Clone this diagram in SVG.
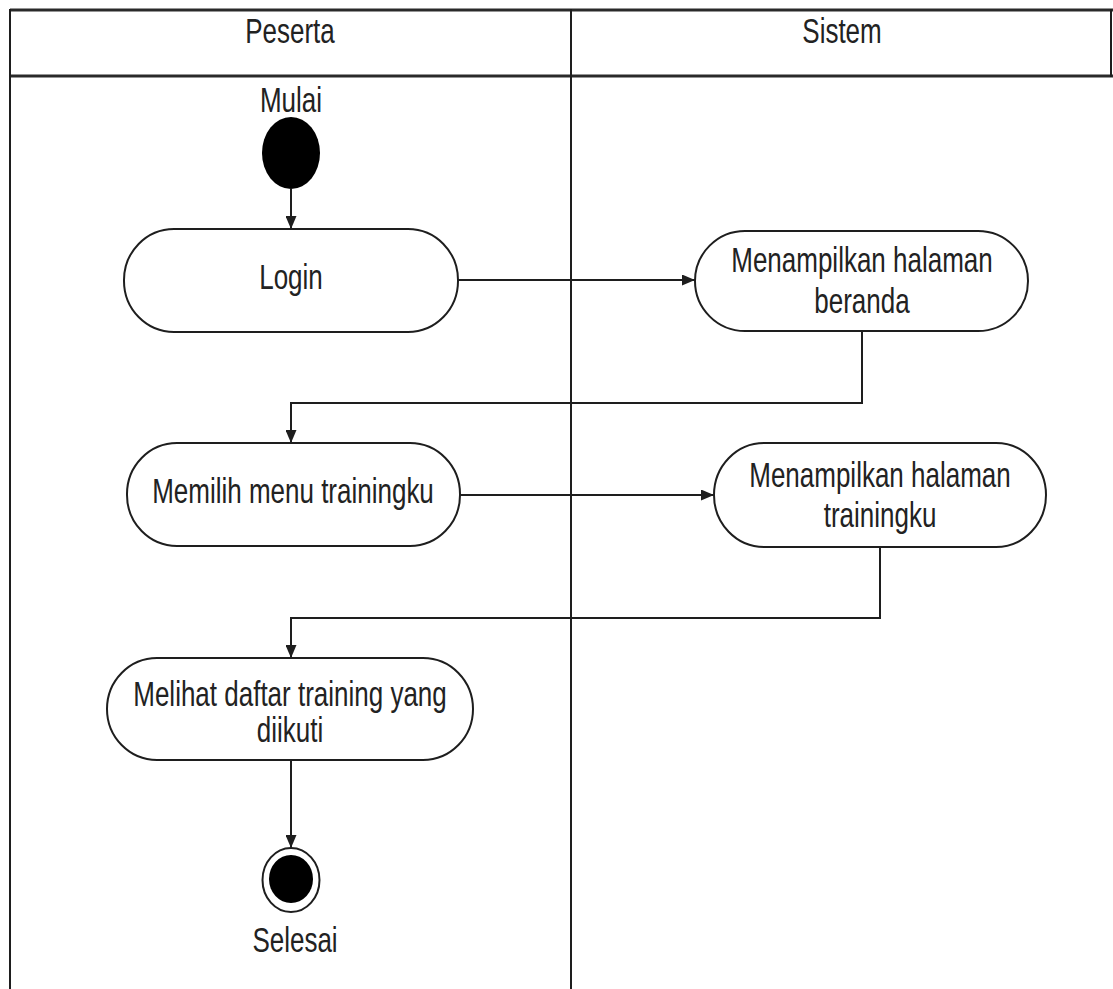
<svg xmlns="http://www.w3.org/2000/svg" width="1113" height="989" viewBox="0 0 1113 989">
  <style>
    .lane { fill: none; stroke: #1e1e1e; stroke-width: 2; }
    .hdr { fill: none; stroke: #2a2a2a; stroke-width: 3; }
    .act { fill: #ffffff; stroke: #1e1e1e; stroke-width: 2; }
    .flow { fill: none; stroke: #1e1e1e; stroke-width: 2; }
    .lbl { font-family: "Liberation Sans", Arial, sans-serif; font-size: 26px; fill: #222222; text-anchor: middle; }
  </style>
  <defs>
    <marker id="arrow" viewBox="0 0 13 11" refX="13" refY="5.5" markerWidth="13" markerHeight="11" markerUnits="userSpaceOnUse" orient="auto">
      <path d="M0,0 L13,5.5 L0,11 z" fill="#1e1e1e"/>
    </marker>
  </defs>

  <rect width="1113" height="989" fill="#ffffff"/>

  <!-- swimlanes -->
  <g id="lanes">
    <line class="hdr" x1="10" y1="10" x2="1113" y2="10"/>
    <line class="hdr" x1="10" y1="76" x2="1113" y2="76"/>
    <line class="lane" x1="10" y1="9" x2="10" y2="989"/>
    <line class="lane" x1="571" y1="9" x2="571" y2="989"/>
    <line class="lane" x1="1111" y1="9" x2="1111" y2="77"/>
    <text class="lbl" transform="translate(290,43) scale(1,1.33)">Peserta</text>
    <text class="lbl" transform="translate(842,43) scale(1,1.33)">Sistem</text>
  </g>

  <!-- connectors -->
  <g id="connectors">
    <path class="flow" d="M291,189 L291,229" marker-end="url(#arrow)"/>
    <path class="flow" d="M458,280 L695,280" marker-end="url(#arrow)"/>
    <path class="flow" d="M862,331 L862,403 L291,403 L291,443" marker-end="url(#arrow)"/>
    <path class="flow" d="M460,495 L714,495" marker-end="url(#arrow)"/>
    <path class="flow" d="M880,547 L880,618 L291,618 L291,658" marker-end="url(#arrow)"/>
    <path class="flow" d="M291,760 L291,848" marker-end="url(#arrow)"/>
  </g>

  <!-- start node -->
  <g id="start">
    <ellipse cx="291" cy="153" rx="29" ry="36" fill="#000000"/>
    <text class="lbl" transform="translate(291,112) scale(1,1.33)">Mulai</text>
  </g>

  <g id="login">
    <rect class="act" x="124" y="229" width="334" height="103" rx="50" ry="51"/>
    <text class="lbl" transform="translate(291,289) scale(1,1.33)">Login</text>
  </g>

  <g id="beranda">
    <rect class="act" x="695" y="231" width="333" height="100" rx="50" ry="50"/>
    <text class="lbl" transform="translate(862,272) scale(1,1.33)">Menampilkan halaman</text>
    <text class="lbl" transform="translate(862,313) scale(1,1.33)">beranda</text>
  </g>

  <g id="menu-trainingku">
    <rect class="act" x="127" y="443" width="333" height="103" rx="50" ry="51"/>
    <text class="lbl" transform="translate(293,503) scale(1,1.33)">Memilih menu trainingku</text>
  </g>

  <g id="halaman-trainingku">
    <rect class="act" x="714" y="443" width="332" height="104" rx="50" ry="52"/>
    <text class="lbl" transform="translate(880,487) scale(1,1.33)">Menampilkan halaman</text>
    <text class="lbl" transform="translate(880,527) scale(1,1.33)">trainingku</text>
  </g>

  <g id="daftar-training">
    <rect class="act" x="107" y="658" width="366" height="102" rx="50" ry="51"/>
    <text class="lbl" transform="translate(290,706) scale(1,1.33)">Melihat daftar training yang</text>
    <text class="lbl" transform="translate(290,742) scale(1,1.33)">diikuti</text>
  </g>

  <!-- end node -->
  <g id="end">
    <ellipse cx="291" cy="880" rx="28.5" ry="32" fill="#ffffff" stroke="#1e1e1e" stroke-width="2"/>
    <ellipse cx="291" cy="879" rx="22" ry="24" fill="#000000"/>
    <text class="lbl" transform="translate(295,952) scale(1,1.33)">Selesai</text>
  </g>
</svg>
